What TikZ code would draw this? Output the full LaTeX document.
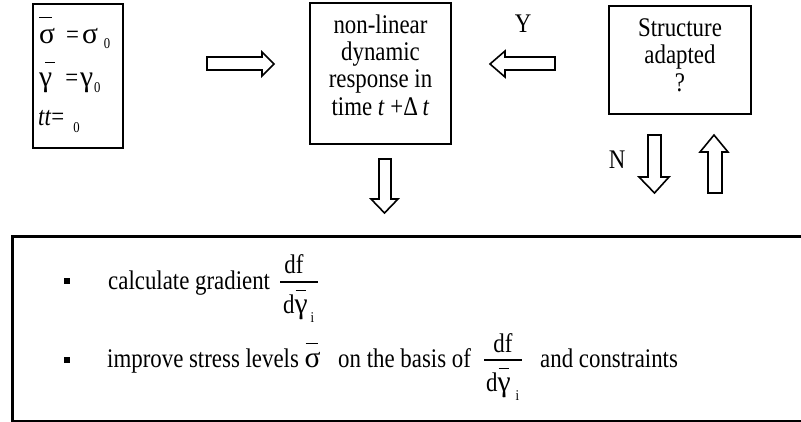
\documentclass[tikz,border=0pt]{standalone}
\usepackage{fontspec}
\setmainfont[FakeStretch=0.85]{Liberation Serif}
\newfontfamily\grk[Scale=1.1]{Liberation Serif}
% #1 raise, #2 shift, #3 width, #4 character
\newcommand\barred[4]{\rlap{\hspace*{#2}\raisebox{#1}{\rule{#3}{1.5bp}}}#4}
\newcommand\subf{\fontsize{15}{15}\selectfont}
\newcommand\sig{{\grk σ}}
\newcommand\gam{{\grk γ}}
\begin{document}
\begin{tikzpicture}[x=1bp,y=-1bp,
  font=\fontsize{27}{27.4}\selectfont,
  box/.style={draw, line width=2.5bp, inner sep=0pt},
  txt/.style={inner sep=0pt},
  blockarrow/.style={draw, line width=1.6bp, line join=miter},
  bulletsq/.style={fill, minimum size=6.5bp, inner sep=0pt},
  fracbar/.style={line width=1.5bp}]
\useasboundingbox (0,0) rectangle (801,421);
\clip (0,0) rectangle (801,421);

% initial values box
\node[box, line width=2.8bp, minimum width=90bp, minimum height=144bp] (init) at (78,76) {};
\node[txt, anchor=base west] (l1) at (39,43)
  {\barred{25bp}{0bp}{13bp}{\sig}\hspace{11bp}=\hspace{3bp}\sig\hspace{6bp}\raisebox{-5bp}{\subf 0}};
\node[txt, anchor=base west] (l2) at (39,86)
  {\barred{23bp}{6bp}{10bp}{\gam}\hspace{13bp}=\hspace{2bp}\gam\hspace{1bp}\raisebox{-6bp}{\subf 0}};
\node[txt, anchor=base west] (l3) at (38,125)
  {\textit{tt}=\hspace{9bp}\raisebox{-7bp}{\subf 0}};

% response box
\node[box, minimum width=141bp, minimum height=141bp] (resp) at (380.5,73.5) {};
\node[txt, align=center, anchor=base] (resptext) at (380.5,115)
  {non-linear\\dynamic\\response in\\time \textit{t} +Δ\,\textit{t}};

% structure adapted box
\node[box, line width=2.2bp, minimum width=142bp, minimum height=108bp] (adapt) at (680,60) {};
\node[txt, align=center, anchor=base] (adapttext) at (680,91)
  {Structure\\adapted\\?};

\node[txt, anchor=base] (Y) at (523,32) {Y};
\node[txt, anchor=base] (N) at (617,168) {N};

% block arrows
\draw[blockarrow] (207,57) -- (262,57) -- (262,52) -- (274,64) -- (262,76) -- (262,70) -- (207,70) -- cycle;
\draw[blockarrow] (555,57) -- (505,57) -- (505,51) -- (490,64) -- (505,77) -- (505,70) -- (555,70) -- cycle;
\draw[blockarrow] (648,135) -- (661,135) -- (661,177) -- (669,177) -- (654.5,193) -- (639,177) -- (648,177) -- cycle;
\draw[blockarrow] (708,193) -- (708,152) -- (700,152) -- (714,135) -- (728,152) -- (722,152) -- (722,193) -- cycle;
\draw[blockarrow] (379,159) -- (391,159) -- (391,199) -- (398,199) -- (384.5,213) -- (371,199) -- (379,199) -- cycle;

% gradient box
\node[draw, line width=2.5bp, minimum width=820bp, minimum height=185bp, anchor=north west, inner sep=0pt] (grad) at (11,235) {};

\node[bulletsq] (b1) at (67,281) {};
\node[bulletsq] (b2) at (67,360) {};

\node[txt, anchor=base west] (t1) at (108,289) {calculate gradient};
\node[txt, anchor=base] (n1) at (294,273) {df};
\draw[fracbar] (280,282) -- (318,282);
\node[txt, anchor=base west] (d1) at (283,313)
  {d\barred{22bp}{1bp}{10bp}{\gam}\hspace{3bp}\raisebox{-9bp}{\subf i}};

\node[txt, anchor=base west] (t2) at (107,367)
  {improve stress levels \barred{23bp}{1bp}{12bp}{\sig}};
\node[txt, anchor=base west] (t3) at (338,367) {on the basis of};
\node[txt, anchor=base] (n2) at (503,352) {df};
\draw[fracbar] (484,360) -- (522,360);
\node[txt, anchor=base west] (d2) at (486,391)
  {d\barred{22bp}{1bp}{10bp}{\gam}\hspace{5bp}\raisebox{-9bp}{\subf i}};
\node[txt, anchor=base west] (t4) at (540,367) {and constraints};
\end{tikzpicture}
\end{document}
